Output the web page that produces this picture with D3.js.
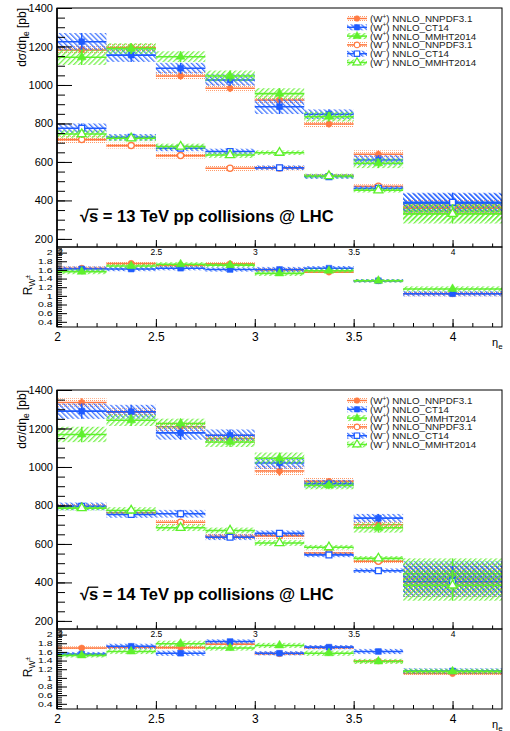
<!DOCTYPE html>
<html>
<head>
<meta charset="utf-8">
<script src="https://cdn.jsdelivr.net/npm/d3@7"></script>
<style>
  body { margin: 0; background: #fff; }
  svg { display: block; font-family: "Liberation Sans", Arial, sans-serif; }
</style>
</head>
<body>
<svg id="chart" width="510" height="731"></svg>
<script>
// bins in eta_e (last one is wider)
const binEdges = [2, 2.25, 2.5, 2.75, 3, 3.25, 3.5, 3.75, 4.25];
const xTickValues = [2, 2.5, 3, 3.5, 4];
const yTickValues = [200, 400, 600, 800, 1000, 1200, 1400];
const ratioTickValues = [0.4, 0.6, 0.8, 1, 1.2, 1.4, 1.6, 1.8, 2];
const pdfNames = ["NNPDF3.1", "CT14", "MMHT2014"];

// 13 TeV, dsigma/deta [pb]
const wp13Nnpdf = [1182, 1194, 1047, 983, 922, 797, 640, 370];
const wp13NnpdfErr = [20, 20, 20, 20, 18, 17, 20, 35];
const wp13Ct14 = [1225, 1155, 1087, 1026, 887, 848, 610, 385];
const wp13Ct14Err = [45, 35, 28, 30, 38, 25, 25, 50];
const wp13Mmht = [1144, 1189, 1147, 1047, 955, 835, 593, 345];
const wp13MmhtErr = [40, 28, 28, 28, 28, 25, 25, 50];
const wm13Nnpdf = [716, 685, 633, 567, 568, 527, 474, 360];
const wm13NnpdfErr = [18, 15, 15, 15, 12, 10, 10, 35];
const wm13Ct14 = [775, 728, 671, 654, 570, 524, 463, 390];
const wm13Ct14Err = [25, 17, 15, 15, 12, 12, 12, 50];
const wm13Mmht = [745, 723, 680, 636, 648, 527, 453, 330];
const wm13MmhtErr = [20, 15, 15, 15, 12, 12, 12, 50];
// 13 TeV ratio W+/W-
const r13Nnpdf = [1.64, 1.75, 1.71, 1.74, 1.60, 1.55, 1.35, 1.05];
const r13Ct14 = [1.62, 1.62, 1.64, 1.61, 1.61, 1.64, 1.35, 1.05];
const r13Mmht = [1.56, 1.69, 1.73, 1.71, 1.52, 1.58, 1.35, 1.16];
const r13NnpdfErr = [0.04, 0.04, 0.04, 0.04, 0.04, 0.04, 0.03, 0.06];
const r13Ct14Err = [0.06, 0.05, 0.05, 0.05, 0.06, 0.05, 0.04, 0.06];
const r13MmhtErr = [0.06, 0.05, 0.05, 0.05, 0.06, 0.05, 0.04, 0.06];

// 14 TeV
const wp14Nnpdf = [1335, 1285, 1209, 1148, 979, 925, 700, 420];
const wp14NnpdfErr = [22, 20, 22, 25, 25, 18, 20, 80];
const wp14Ct14 = [1290, 1287, 1177, 1165, 1021, 913, 734, 430];
const wp14Ct14Err = [40, 36, 35, 30, 30, 20, 22, 80];
const wp14Mmht = [1169, 1243, 1226, 1130, 1045, 904, 684, 445];
const wp14MmhtErr = [40, 30, 25, 26, 30, 20, 25, 80];
const wm14Nnpdf = [795, 762, 713, 640, 642, 553, 510, 400];
const wm14NnpdfErr = [12, 15, 15, 15, 15, 12, 12, 80];
const wm14Ct14 = [795, 753, 757, 635, 655, 543, 461, 405];
const wm14Ct14Err = [20, 17, 20, 15, 15, 12, 12, 80];
const wm14Mmht = [786, 774, 684, 670, 605, 583, 525, 385];
const wm14MmhtErr = [12, 17, 17, 15, 15, 12, 12, 80];
const r14Nnpdf = [1.69, 1.71, 1.70, 1.78, 1.56, 1.70, 1.39, 1.10];
const r14Ct14 = [1.55, 1.73, 1.57, 1.84, 1.57, 1.71, 1.61, 1.16];
const r14Mmht = [1.52, 1.61, 1.79, 1.69, 1.75, 1.57, 1.38, 1.15];
const r14NnpdfErr = [0.04, 0.04, 0.04, 0.04, 0.04, 0.04, 0.04, 0.05];
const r14Ct14Err = [0.05, 0.06, 0.06, 0.05, 0.05, 0.05, 0.06, 0.06];
const r14MmhtErr = [0.05, 0.06, 0.07, 0.06, 0.06, 0.06, 0.06, 0.06];

const panels = [
  { energy: "13", top: 8, textY: 222,
    wPlus: [wp13Nnpdf, wp13Ct14, wp13Mmht], wPlusErr: [wp13NnpdfErr, wp13Ct14Err, wp13MmhtErr],
    wMinus: [wm13Nnpdf, wm13Ct14, wm13Mmht], wMinusErr: [wm13NnpdfErr, wm13Ct14Err, wm13MmhtErr],
    ratio: [r13Nnpdf, r13Ct14, r13Mmht], ratioErr: [r13NnpdfErr, r13Ct14Err, r13MmhtErr] },
  { energy: "14", top: 390, textY: 600,
    wPlus: [wp14Nnpdf, wp14Ct14, wp14Mmht], wPlusErr: [wp14NnpdfErr, wp14Ct14Err, wp14MmhtErr],
    wMinus: [wm14Nnpdf, wm14Ct14, wm14Mmht], wMinusErr: [wm14NnpdfErr, wm14Ct14Err, wm14MmhtErr],
    ratio: [r14Nnpdf, r14Ct14, r14Mmht], ratioErr: [r14NnpdfErr, r14Ct14Err, r14MmhtErr] }
];

const left = 57, right = 502, mainH = 239, ratioH = 80;
const orange = "#ff7a42", blue = "#1f5cff", green = "#5ef02c";

const svg = d3.select("#chart");
const defs = svg.append("defs");

function hatch(id, color, angle) {
  const p = defs.append("pattern").attr("id", id)
    .attr("patternUnits", "userSpaceOnUse")
    .attr("width", 3.6).attr("height", 3.6)
    .attr("patternTransform", `rotate(${angle})`);
  p.append("line").attr("x1", 0.7).attr("x2", 0.7).attr("y1", 0).attr("y2", 3.6)
    .attr("stroke", color).attr("stroke-width", 1.1);
}
hatch("hatch-blue", blue, -45);
hatch("hatch-green", green, 45);
const dots = defs.append("pattern").attr("id", "dots-orange")
  .attr("patternUnits", "userSpaceOnUse").attr("width", 2).attr("height", 2);
dots.append("rect").attr("width", 1).attr("height", 1).attr("fill", "#ff9a68");

const styles = [
  { color: orange, fill: "url(#dots-orange)", symbol: d3.symbolCircle, size: 30 },
  { color: blue, fill: "url(#hatch-blue)", symbol: d3.symbolSquare, size: 34 },
  { color: green, fill: "url(#hatch-green)", symbol: d3.symbolTriangle, size: 34 }
];

const x = d3.scaleLinear().domain([2, 4.25]).range([left, right]);
const plain = d => String(d);

function drawSeries(g, y, vals, errs, st, open) {
  const bins = vals.map((v, i) => ({
    x0: binEdges[i], x1: binEdges[i + 1], xc: (binEdges[i] + binEdges[i + 1]) / 2, v, e: errs[i]
  }));
  const s = g.append("g");
  s.selectAll("rect.band").data(bins).join("rect").attr("class", "band")
    .attr("x", d => x(d.x0)).attr("width", d => x(d.x1) - x(d.x0))
    .attr("y", d => y(d.v + d.e)).attr("height", d => y(d.v - d.e) - y(d.v + d.e))
    .attr("fill", st.fill);
  s.selectAll("line.cv").data(bins).join("line").attr("class", "cv")
    .attr("x1", d => x(d.x0)).attr("x2", d => x(d.x1))
    .attr("y1", d => y(d.v)).attr("y2", d => y(d.v))
    .attr("stroke", st.color).attr("stroke-width", 1.6);
  s.selectAll("line.eb").data(bins).join("line").attr("class", "eb")
    .attr("x1", d => x(d.xc)).attr("x2", d => x(d.xc))
    .attr("y1", d => y(d.v - d.e)).attr("y2", d => y(d.v + d.e))
    .attr("stroke", st.color).attr("stroke-width", 1.4);
  s.selectAll("path.mk").data(bins).join("path").attr("class", "mk")
    .attr("d", d3.symbol().type(st.symbol).size(st.size))
    .attr("transform", d => `translate(${x(d.xc)},${y(d.v)})`)
    .attr("fill", open ? "#fff" : st.color)
    .attr("stroke", st.color).attr("stroke-width", open ? 1.3 : 0.5);
}

panels.forEach((p, pi) => {
  const g = svg.append("g");
  const mainBottom = p.top + mainH;
  const ratioBottom = mainBottom + ratioH;
  const y = d3.scaleLinear().domain([158, 1400]).range([mainBottom, p.top]);
  const yr = d3.scaleLinear().domain([0.28, 2.13]).range([ratioBottom, mainBottom]);

  const clipMain = "clip-main-" + pi, clipRatio = "clip-ratio-" + pi;
  defs.append("clipPath").attr("id", clipMain).append("rect")
    .attr("x", left).attr("y", p.top).attr("width", right - left).attr("height", mainH);
  defs.append("clipPath").attr("id", clipRatio).append("rect")
    .attr("x", left).attr("y", mainBottom).attr("width", right - left).attr("height", ratioH);

  // main pad
  const gm = g.append("g").attr("clip-path", `url(#${clipMain})`);
  p.wPlus.forEach((vals, k) => drawSeries(gm, y, vals, p.wPlusErr[k], styles[k], false));
  p.wMinus.forEach((vals, k) => drawSeries(gm, y, vals, p.wMinusErr[k], styles[k], true));

  // ratio pad
  const gr = g.append("g").attr("clip-path", `url(#${clipRatio})`);
  p.ratio.forEach((vals, k) => drawSeries(gr, yr, vals, p.ratioErr[k], styles[k], false));

  // frames
  g.append("rect").attr("x", left).attr("y", p.top).attr("width", right - left).attr("height", mainH)
    .attr("fill", "none").attr("stroke", "#000").attr("stroke-width", 1);
  g.append("rect").attr("x", left).attr("y", mainBottom).attr("width", right - left).attr("height", ratioH)
    .attr("fill", "none").attr("stroke", "#000").attr("stroke-width", 1);

  // main y axis
  const ay = g.append("g").attr("transform", `translate(${left},0)`)
    .call(d3.axisLeft(y).tickValues(yTickValues).tickFormat(plain).tickSizeInner(-15).tickSizeOuter(0).tickPadding(4));
  ay.append("g").call(d3.axisLeft(y).tickValues(d3.range(200, 1401, 50)).tickFormat("").tickSizeInner(-8).tickSizeOuter(0));
  ay.selectAll("text").attr("font-size", 11).attr("fill", "#000");

  // main x axis (labels fall inside ratio pad)
  const axm = g.append("g").attr("transform", `translate(0,${mainBottom})`)
    .call(d3.axisBottom(x).tickValues(xTickValues).tickFormat(plain).tickSizeInner(-7).tickSizeOuter(0).tickPadding(2));
  axm.append("g").call(d3.axisBottom(x).tickValues(d3.range(2, 4.25, 0.1)).tickFormat("").tickSizeInner(-3.5).tickSizeOuter(0));
  axm.selectAll("text").attr("font-size", 8.5).attr("fill", "#000");
  axm.selectAll(".tick text").filter(d => d === 2).attr("dx", 3);

  // ratio y axis (labels short and wide as in the original)
  const ayr = g.append("g").attr("transform", `translate(${left},0)`)
    .call(d3.axisLeft(yr).tickValues(ratioTickValues).tickFormat(plain).tickSizeInner(-10).tickSizeOuter(0).tickPadding(3));
  ayr.append("g").call(d3.axisLeft(yr).tickValues(d3.range(0.3, 2.13, 0.05)).tickFormat("").tickSizeInner(-5).tickSizeOuter(0));
  ayr.selectAll("text").attr("font-size", 7).attr("fill", "#000").attr("transform", "scale(1.5,1)");

  // ratio x axis
  const axr = g.append("g").attr("transform", `translate(0,${ratioBottom})`)
    .call(d3.axisBottom(x).tickValues(xTickValues).tickFormat(plain).tickSizeInner(-8).tickSizeOuter(0).tickPadding(5));
  axr.append("g").call(d3.axisBottom(x).tickValues(d3.range(2, 4.25, 0.1)).tickFormat("").tickSizeInner(-4).tickSizeOuter(0));
  axr.selectAll("text").attr("font-size", 12).attr("fill", "#000");

  [ay, axm, ayr, axr].forEach(a => a.selectAll(".domain").remove());
  g.append("line").attr("x1", left).attr("x2", left).attr("y1", p.top).attr("y2", ratioBottom)
    .attr("stroke", "#000").attr("stroke-width", 1.6);

  // axis titles
  const yt = g.append("text").attr("transform", `translate(26,${p.top}) rotate(-90)`)
    .attr("text-anchor", "end").attr("font-size", 12);
  yt.append("tspan").text("dσ/dη");
  yt.append("tspan").attr("font-size", 8.5).attr("dy", 3).text("e");
  yt.append("tspan").attr("dy", -3).text(" [pb]");

  const rt = g.append("text").attr("transform", `translate(32,${mainBottom + 38}) rotate(-90)`)
    .attr("text-anchor", "middle").attr("font-size", 12);
  rt.append("tspan").text("R");
  rt.append("tspan").attr("font-size", 8.5).attr("dy", 3).text("W");
  rt.append("tspan").attr("font-size", 6.5).attr("dy", -5).text("±");

  const xt = g.append("text").attr("x", 492).attr("y", ratioBottom + 19).attr("font-size", 11);
  xt.append("tspan").text("η");
  xt.append("tspan").attr("font-size", 8).attr("dy", 3).text("e");

  // energy label
  const lab = g.append("text").attr("x", 80).attr("y", p.textY)
    .attr("font-size", 16.5).attr("font-weight", "bold")
    .text(`√s = ${p.energy} TeV pp collisions @ LHC`);
  const sBox = lab.node().getExtentOfChar(1);
  const rBox = lab.node().getExtentOfChar(0);
  g.append("line").attr("x1", rBox.x + rBox.width - 1).attr("x2", sBox.x + sBox.width)
    .attr("y1", rBox.y + 2.2).attr("y2", rBox.y + 2.2).attr("stroke", "#000").attr("stroke-width", 1.3);

  // legend
  const legendRows = [];
  ["+", "−"].forEach(ch => pdfNames.forEach((name, k) => legendRows.push({ ch, name, k, open: ch !== "+" })));
  const lg = g.append("g");
  legendRows.forEach((r, i) => {
    const cy = p.top + 10.5 + i * 8.8;
    const st = styles[r.k];
    lg.append("rect").attr("x", 347).attr("y", cy - 3).attr("width", 20).attr("height", 6).attr("fill", st.fill);
    lg.append("line").attr("x1", 347).attr("x2", 367).attr("y1", cy).attr("y2", cy)
      .attr("stroke", st.color).attr("stroke-width", 1.5);
    lg.append("path").attr("d", d3.symbol().type(st.symbol).size(st.size * 0.85))
      .attr("transform", `translate(357,${cy})`)
      .attr("fill", r.open ? "#fff" : st.color).attr("stroke", st.color).attr("stroke-width", r.open ? 1.2 : 0.5);
    const t = lg.append("text").attr("x", 370).attr("y", cy + 3.5).attr("font-size", 9.8).attr("fill", "#222");
    t.append("tspan").text("(W");
    t.append("tspan").attr("font-size", 6.5).attr("dy", -3.5).text(r.ch);
    t.append("tspan").attr("dy", 3.5).text(") NNLO_" + r.name);
  });
});
</script>
</body>
</html>
